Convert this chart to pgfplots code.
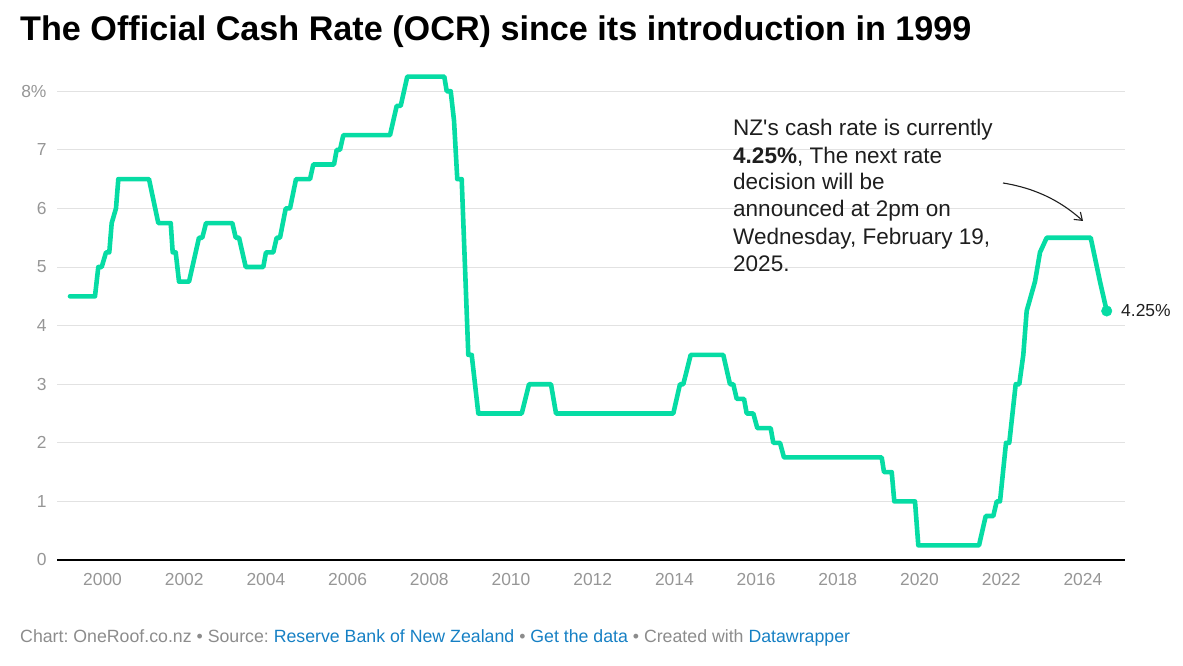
\documentclass[border=0pt]{standalone}
\usepackage{fontspec}
\setmainfont{Liberation Sans}
\usepackage{pgfplots}
\usepackage{pgfplotstable}
\pgfplotsset{compat=1.18}
\usetikzlibrary{arrows.meta}
\definecolor{ocr}{RGB}{6,220,164}
\definecolor{gridc}{RGB}{226,226,226}
\definecolor{ticklab}{RGB}{150,150,150}
\definecolor{foot}{RGB}{140,140,140}
\definecolor{link}{RGB}{22,128,196}
\definecolor{ann}{RGB}{30,30,30}
\frenchspacing

\pgfplotstableread{
x y
1999.204 4.50
1999.816 4.50
1999.897 5.00
1999.980 5.00
2000.086 5.25
2000.166 5.25
2000.225 5.75
2000.330 6.00
2000.387 6.50
2001.138 6.50
2001.366 5.75
2001.670 5.75
2001.718 5.25
2001.792 5.25
2001.873 4.75
2002.118 4.75
2002.362 5.50
2002.443 5.50
2002.534 5.75
2003.178 5.75
2003.261 5.50
2003.342 5.50
2003.506 5.00
2003.936 5.00
2004.002 5.25
2004.181 5.25
2004.264 5.50
2004.345 5.50
2004.485 6.00
2004.590 6.00
2004.737 6.50
2005.080 6.50
2005.160 6.75
2005.667 6.75
2005.733 7.00
2005.814 7.00
2005.895 7.25
2007.038 7.25
2007.202 7.75
2007.300 7.75
2007.461 8.25
2008.367 8.25
2008.426 8.00
2008.524 8.00
2008.605 7.50
2008.685 6.50
2008.793 6.50
2008.955 3.50
2009.038 3.50
2009.200 2.50
2010.262 2.50
2010.441 3.00
2010.979 3.00
2011.102 2.50
2013.973 2.50
2014.137 3.00
2014.218 3.00
2014.399 3.50
2015.197 3.50
2015.361 3.00
2015.442 3.00
2015.525 2.75
2015.704 2.75
2015.770 2.50
2015.932 2.50
2016.030 2.25
2016.357 2.25
2016.421 2.00
2016.585 2.00
2016.683 1.75
2019.075 1.75
2019.131 1.50
2019.320 1.50
2019.383 1.00
2019.890 1.00
2019.971 0.25
2021.457 0.25
2021.621 0.75
2021.807 0.75
2021.890 1.00
2021.971 1.00
2022.118 2.00
2022.198 2.00
2022.355 3.00
2022.443 3.00
2022.541 3.50
2022.624 4.25
2022.827 4.75
2022.950 5.25
2023.114 5.50
2024.191 5.50
2024.419 4.75
2024.583 4.25
}\ocrdata

\begin{document}
\begin{tikzpicture}[x=1bp,y=1bp]
\path[use as bounding box] (0,0) rectangle (1183,666);
\begin{axis}[
  at={(57bp,106bp)}, anchor=south west,
  scale only axis, width=1068bp, height=484bp,
  xmin=1998.886, xmax=2025.031, ymin=0, ymax=8.26,
  axis line style={draw=none},
  tick style={draw=none},
  ymajorgrids, grid style={gridc, line width=1bp},
  xtick={2000,2002,...,2024},
  ytick={0,1,...,8},
  yticklabels={0,1,2,3,4,5,6,7,8\%},
  extra y ticks={0}, extra y tick labels={},
  extra tick style={grid style={black, line width=2.6bp}},
  /pgf/number format/assume math mode=true,
  /pgf/number format/1000 sep={},
  ticklabel style={font=\fontsize{17.5}{18}\selectfont, text=ticklab},
  yticklabel style={anchor=east, xshift=-7bp},
  xticklabel style={anchor=north, yshift=-10bp},
  clip=false,
]
\addplot[ocr, line width=4.6bp, line join=round, line cap=round] table[x=x,y=y] {\ocrdata};
\addplot[only marks, mark=*, mark size=5.3bp, ocr] coordinates {(2024.583,4.25)};
\end{axis}
% title
\node[anchor=base west, inner sep=0, font=\bfseries\fontsize{34.3}{38}\selectfont] at (20,625) {The Official Cash Rate (OCR) since its introduction in 1999};
% annotation
\begin{scope}[every node/.style={anchor=base west, inner sep=0, text=ann, font=\fontsize{22.6}{26}\selectfont}]
\node at (733,530.3) {NZ\textquotesingle s cash rate is currently};
\node at (733,502.7) {\textbf{4.25\%}, The next rate};
\node at (733,476) {decision will be};
\node at (733,449.3) {announced at 2pm on};
\node at (733,421) {Wednesday, February 19,};
\node at (733,394.3) {2025.};
\end{scope}
\draw[ann, line width=1.1bp, -{Straight Barb[length=7bp,width=10bp]}] (1003,483) .. controls (1040,477) and (1064,462) .. (1083,445);
\node[anchor=west, inner sep=0, text=ann, font=\fontsize{17.5}{18}\selectfont] at (1121,355) {4.25\%};
% footer
\node[anchor=base west, inner sep=0, font=\fontsize{17.8}{20}\selectfont] at (20,23) {\frenchspacing{\color{foot}Chart: OneRoof.co.nz\ \textbullet\ Source:\ }{\color{link}Reserve Bank of New Zealand}{\color{foot}\ \textbullet\ }{\color{link}Get the data}{\color{foot}\ \textbullet\ Created with\ }{\color{link}Datawrapper}};
\end{tikzpicture}
\end{document}
